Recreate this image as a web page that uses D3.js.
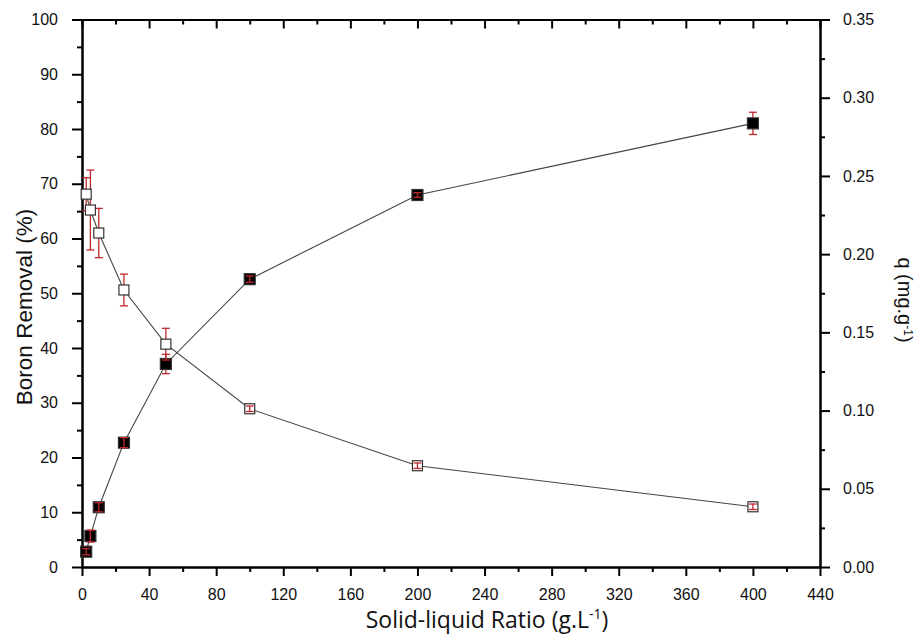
<!DOCTYPE html>
<html>
<head>
<meta charset="utf-8">
<script src="https://cdn.jsdelivr.net/npm/d3@7"></script>
<style>
  html, body { margin: 0; padding: 0; background: #fff; }
  svg { display: block; }
</style>
</head>
<body>
<svg id="chart" width="915" height="641"></svg>
<script>
// Solid-liquid ratio (g/L) used in each run
const ratio = [2.5, 5, 10, 25, 50, 100, 200, 400];

// Boron removal (%), left axis, with standard deviation
const removal    = [68.1, 65.2, 61.0, 50.6, 40.7, 28.9, 18.5, 11.0];
const removalErr = [3.0, 7.3, 4.5, 2.9, 2.9, 0.5, 0.5, 0.5];

// Adsorption capacity q (mg/g), right axis, with standard deviation
const qValues = [0.0098, 0.0198, 0.0382, 0.0795, 0.1298, 0.1840, 0.2378, 0.2836];
const qErr    = [0.0020, 0.0037, 0.0029, 0.0032, 0.0062, 0.0020, 0.0015, 0.0071];

// Tick values
const xTicks      = d3.range(0, 441, 40);
const xMinor      = d3.range(20, 440, 40);
const leftTicks   = d3.range(0, 101, 10);
const leftMinor   = d3.range(5, 100, 10);
const rightTicks  = d3.range(0, 0.351, 0.05);
const rightMinor  = d3.range(0.025, 0.35, 0.05);

const svg = d3.select("#chart");
const plot = { left: 82, right: 820, top: 19.5, bottom: 567 };

const x  = d3.scaleLinear().domain([0, 440]).range([plot.left, plot.right]);
const yL = d3.scaleLinear().domain([0, 100]).range([plot.bottom, plot.top]);
const yR = d3.scaleLinear().domain([0, 0.35]).range([plot.bottom, plot.top]);

const tickFont = "'Liberation Sans', Arial, sans-serif";

function styleAxis(g) {
  g.selectAll("path.domain").attr("stroke", "#000").attr("stroke-width", 2).attr("stroke-linecap", "square");
  g.selectAll(".tick line").attr("stroke", "#000").attr("stroke-width", 2);
  g.selectAll("text").attr("fill", "#111").style("font-family", tickFont).style("font-size", "16px");
}

// Minor ticks first so the axis lines sit over them
svg.append("g").attr("transform", `translate(0,${plot.bottom})`)
  .call(d3.axisBottom(x).tickValues(xMinor).tickSize(5).tickFormat("").tickSizeOuter(0)).call(styleAxis);
svg.append("g").attr("transform", `translate(0,${plot.top})`)
  .call(d3.axisBottom(x).tickValues(xMinor).tickSize(5).tickFormat("").tickSizeOuter(0)).call(styleAxis);
svg.append("g").attr("transform", `translate(${plot.left},0)`)
  .call(d3.axisLeft(yL).tickValues(leftMinor).tickSize(5).tickFormat("").tickSizeOuter(0)).call(styleAxis);
svg.append("g").attr("transform", `translate(${plot.right},0)`)
  .call(d3.axisRight(yR).tickValues(rightMinor).tickSize(5).tickFormat("").tickSizeOuter(0)).call(styleAxis);

// Bottom axis
svg.append("g").attr("transform", `translate(0,${plot.bottom})`)
  .call(d3.axisBottom(x).tickValues(xTicks).tickSize(9).tickPadding(12.5).tickSizeOuter(0))
  .call(styleAxis);

// Top frame with inward ticks, no labels
svg.append("g").attr("transform", `translate(0,${plot.top})`)
  .call(d3.axisBottom(x).tickValues(xTicks).tickSize(9).tickFormat("").tickSizeOuter(0))
  .call(styleAxis);

// Left axis: boron removal
svg.append("g").attr("transform", `translate(${plot.left},0)`)
  .call(d3.axisLeft(yL).tickValues(leftTicks).tickSize(10).tickPadding(14).tickSizeOuter(0))
  .call(styleAxis);

// Right axis: q
svg.append("g").attr("transform", `translate(${plot.right},0)`)
  .call(d3.axisRight(yR).tickValues(rightTicks).tickSize(10).tickPadding(13)
        .tickFormat(d3.format(".2f")).tickSizeOuter(0))
  .call(styleAxis);

// Axis titles
svg.append("text")
  .attr("transform", "translate(32,307) rotate(-90)")
  .attr("text-anchor", "middle")
  .style("font-family", tickFont).style("font-size", "22.5px").attr("fill", "#111")
  .text("Boron Removal (%)");

const rTitle = svg.append("text")
  .attr("transform", "translate(898,300) rotate(90)")
  .attr("text-anchor", "middle")
  .style("font-family", tickFont).style("font-size", "20px").attr("fill", "#111");
rTitle.append("tspan").text("q  (mg.g");
rTitle.append("tspan").attr("dy", "-6").style("font-size", "12px").text("-1");
rTitle.append("tspan").attr("dy", "6").text(")");

const bTitle = svg.append("text")
  .attr("x", 487).attr("y", 628)
  .attr("text-anchor", "middle")
  .style("font-family", "'Open Sans', Lato, sans-serif").style("font-size", "23px").attr("fill", "#111");
bTitle.append("tspan").text("Solid-liquid Ratio (g.L");
bTitle.append("tspan").attr("dy", "-9").style("font-size", "14px").text("-1");
bTitle.append("tspan").attr("dy", "9").text(")");

// Series definitions
const errColor = "#c0282d";
const series = [
  { name: "q", y: yR, vals: qValues, errs: qErr, fill: "#000", size: 11 },
  { name: "removal", y: yL, vals: removal, errs: removalErr, fill: "#fff", size: 10 }
];

const line = (s) => d3.line().x((d, i) => x(ratio[i])).y(d => s.y(d))(s.vals);

// Connecting lines
series.forEach(s => {
  svg.append("path").attr("d", line(s))
    .attr("fill", "none").attr("stroke", "#444").attr("stroke-width", 1.1);
});

function drawErrors(g, s, filter) {
  const capW = 8;
  const rows = s.vals.map((v, i) => ({ cx: x(ratio[i]), top: s.y(v + s.errs[i]), bot: s.y(v - s.errs[i]), mid: s.y(v) }))
    .filter(filter);
  const e = g.selectAll("g.err").data(rows).enter().append("g")
    .attr("stroke", errColor).attr("stroke-width", 1.3).attr("fill", "none");
  e.append("line").attr("x1", d => d.cx).attr("x2", d => d.cx).attr("y1", d => d.top).attr("y2", d => d.bot);
  e.append("line").attr("x1", d => d.cx - capW / 2).attr("x2", d => d.cx + capW / 2).attr("y1", d => d.top).attr("y2", d => d.top);
  e.append("line").attr("x1", d => d.cx - capW / 2).attr("x2", d => d.cx + capW / 2).attr("y1", d => d.bot).attr("y2", d => d.bot);
}

// Each series: error bars, then square markers; short bars that would be hidden
// inside a marker are drawn over it
const overlay = [];
series.forEach(s => {
  const g = svg.append("g");
  const half = s.size / 2;
  drawErrors(g, s, d => true);
  g.selectAll("rect").data(s.vals).enter().append("rect")
    .attr("x", (d, i) => x(ratio[i]) - half)
    .attr("y", d => s.y(d) - half)
    .attr("width", s.size).attr("height", s.size)
    .attr("fill", s.fill).attr("stroke", "#333").attr("stroke-width", 1.2);
  overlay.push({ s, half });
});
overlay.forEach(({ s, half }) => {
  drawErrors(svg.append("g"), s, d => (d.bot - d.mid) <= half + 0.5);
});
</script>
</body>
</html>
